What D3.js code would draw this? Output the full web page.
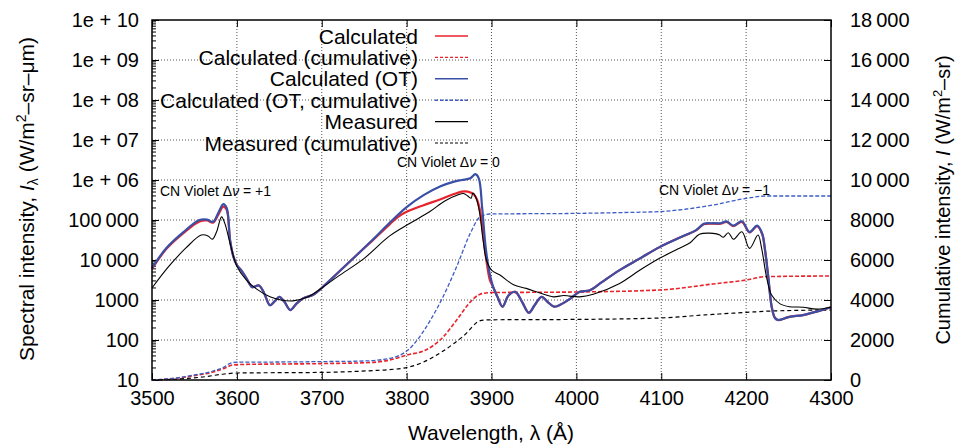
<!DOCTYPE html>
<html><head><meta charset="utf-8">
<script src="https://cdn.jsdelivr.net/npm/d3@7"></script>
<style>
body{margin:0;background:#fff}
svg{font-family:"Liberation Sans",Arial,Helvetica,sans-serif}
</style></head><body>
<svg id="c" width="955" height="444"></svg>
<script>
// ---------- data ----------
const xTicks = [3500,3600,3700,3800,3900,4000,4100,4200,4300];
const leftTicks = [10,100,1000,1e4,1e5,1e6,1e7,1e8,1e9,1e10];
const leftTickLabels = ["10","100","1000","10\u2009000","100\u2009000","1e + 06","1e + 07","1e + 08","1e + 09","1e + 10"];
const rightTicks = [0,2000,4000,6000,8000,10000,12000,14000,16000,18000];
const rightTickLabels = ["0","2000","4000","6000","8000","10\u2009000","12\u2009000","14\u2009000","16\u2009000","18\u2009000"];

const seriesNames = ["Calculated","Calculated (cumulative)","Calculated (OT)","Calculated (OT, cumulative)","Measured","Measured (cumulative)"];

// Calculated (OT) spectral intensity
const otWl  = [3500,3517,3537,3556,3565,3572,3578,3584,3588,3592,3596,3600,3605,3611,3618,3626,3632,3639,3645,3650,3656,3663,3670,3678,3690,3700,3720,3740,3760,3780,3800,3820,3840,3855,3865,3875,3881,3885,3889,3893,3897,3902,3907,3913,3920,3928,3936,3944,3951,3959,3966,3974,3983,3992,4004,4016,4030,4051,4075,4098,4120,4141,4150,4160,4170,4177,4185,4195,4204,4213,4219,4222,4226,4230,4234,4238,4251,4267,4284,4300];
const otVal = [6300,20000,50000,100000,102000,90000,150000,250000,200000,31600,12000,7500,5600,3600,2100,2300,1500,740,950,1200,900,560,800,1100,1350,2000,5000,12600,32000,85000,210000,420000,700000,900000,1000000,1100000,1400000,1100000,200000,22000,5600,2100,1200,680,1300,1600,900,480,750,1200,900,680,800,1050,1600,1750,2800,5600,11000,21000,35000,56000,80000,83000,83000,92000,72000,93000,50000,72000,45000,20000,4000,700,355,316,380,420,520,660];

// Calculated spectral intensity
const calcWl  = [3500,3517,3537,3556,3565,3572,3578,3584,3588,3592,3596,3600,3605,3611,3618,3626,3632,3639,3645,3650,3656,3663,3670,3678,3690,3700,3720,3740,3760,3780,3790,3800,3820,3840,3855,3865,3872,3879,3883,3886,3889,3892,3895,3898,3902,3907,3913,3920,3928,3936,3944,3951,3959,3966,3974,3983,3992,4004,4016,4030,4051,4075,4098,4120,4141,4150,4160,4170,4177,4185,4195,4204,4213,4219,4222,4226,4230,4234,4238,4251,4267,4284,4300];
const calcVal = [6000,19000,47000,92000,97000,86000,135000,215000,180000,30000,12000,7500,5600,3600,2100,2300,1500,740,950,1200,900,560,800,1100,1350,2000,5000,12600,31000,78000,120000,160000,235000,330000,440000,510000,510000,440000,320000,190000,70000,20000,7000,3200,2100,1200,680,1300,1600,900,480,750,1200,900,680,800,1050,1600,1750,2800,5600,11000,21000,35000,55000,78000,81000,81000,89000,70000,90000,49000,70000,44000,19000,3900,700,355,316,380,420,520,660];

// Measured spectral intensity
const measWl  = [3500,3520,3540,3558,3566,3571,3576,3582,3586,3592,3600,3611,3623,3639,3652,3666,3684,3700,3720,3750,3780,3804,3827,3845,3860,3867,3872,3876,3878,3882,3886,3890,3894,3900,3910,3926,3941,3957,3973,3985,3992,4004,4020,4051,4075,4098,4120,4134,4145,4157,4165,4169,4173,4179,4185,4195,4204,4214,4218,4224,4230,4240,4251,4267,4283,4300];
const measVal = [2000,7000,20000,42000,40000,33000,50000,120000,80000,26000,7000,3200,1900,1200,1000,950,1200,2000,4000,11000,40000,83000,160000,300000,420000,460000,400000,350000,470000,350000,150000,32000,10000,5600,4200,2400,1950,1500,1200,1300,1250,1200,1400,2600,5600,11000,19000,27000,44000,47000,45000,42000,37000,48000,33000,51000,19500,42000,21000,3800,1330,800,680,660,590,660];

// Cumulative intensities
const otCumWl  = [3500,3525,3550,3572,3585,3592,3600,3650,3700,3750,3780,3803,3827,3843,3859,3875,3886,3898,4000,4050,4098,4130,4161,4200,4224,4300];
const otCumVal = [0,80,250,450,650,830,890,900,920,950,1080,1550,2920,4170,5670,7330,8130,8300,8330,8370,8420,8550,8750,9080,9200,9200];
const calcCumWl  = [3500,3525,3550,3572,3585,3595,3610,3700,3760,3780,3803,3820,3843,3859,3875,3886,3898,4000,4098,4161,4200,4224,4300];
const calcCumVal = [0,70,220,400,580,750,780,820,880,1000,1280,1450,2150,3000,3900,4280,4370,4400,4500,4800,5000,5170,5200];
const measCumWl  = [3500,3530,3560,3585,3600,3700,3760,3780,3803,3820,3843,3867,3888,3900,4004,4098,4150,4200,4230,4300];
const measCumVal = [0,50,150,300,350,380,470,520,650,900,1450,2200,2980,3010,3030,3100,3250,3380,3450,3500];

// ---------- chart ----------
const svg = d3.select("#c");
const L=152, R=831, T=20, B=380;
const x  = d3.scaleLinear().domain([3500,4300]).range([L,R]);
const yL = d3.scaleLog().domain([10,1e10]).range([B,T]);
const yR = d3.scaleLinear().domain([0,18000]).range([B,T]);

// grid
const grid = svg.append("g").attr("stroke","#555").attr("stroke-width",1).attr("stroke-dasharray","1,2");
xTicks.slice(1,-1).forEach(t=>grid.append("line").attr("x1",x(t)).attr("x2",x(t)).attr("y1",T).attr("y2",B));
leftTicks.slice(1,-1).forEach(t=>grid.append("line").attr("x1",L).attr("x2",R).attr("y1",yL(t)).attr("y2",yL(t)));

const FS = "20px";
function styleAxis(g){
  g.select(".domain").remove();
  g.attr("font-family",'"Liberation Sans",Arial,sans-serif').attr("font-size",FS);
  g.selectAll("line").attr("stroke","#000");
}
svg.append("g").attr("transform",`translate(${L},0)`)
  .call(d3.axisLeft(yL).tickValues(leftTicks).tickFormat((d,i)=>leftTickLabels[i]).tickSize(-7).tickPadding(13))
  .call(styleAxis);
svg.append("g").attr("transform",`translate(${R},0)`)
  .call(d3.axisRight(yR).tickValues(rightTicks).tickFormat((d,i)=>rightTickLabels[i]).tickSize(-7).tickPadding(19))
  .call(styleAxis);
svg.append("g").attr("transform",`translate(0,${B})`)
  .call(d3.axisBottom(x).tickValues(xTicks).tickFormat(d3.format("d")).tickSize(-7).tickPadding(11))
  .call(styleAxis);
svg.append("g").attr("transform",`translate(0,${T})`)
  .call(d3.axisTop(x).tickValues(xTicks).tickFormat("").tickSize(-7))
  .call(styleAxis);

// minor log ticks
const minor = svg.append("g").attr("stroke","#000");
for(let e=1;e<10;e++){ for(let k=2;k<10;k++){ const v=k*Math.pow(10,e);
  minor.append("line").attr("x1",L).attr("x2",L+4).attr("y1",yL(v)).attr("y2",yL(v)); } }

// curves
const curveS = d3.curveCatmullRom.alpha(0.5);
function drawLine(wl, val, yScale, color, width, dash, curve){
  const data = wl.map((w,i)=>[w,val[i]]);
  svg.append("path").datum(data)
    .attr("fill","none").attr("stroke",color).attr("stroke-width",width)
    .attr("stroke-dasharray",dash||null).attr("stroke-linejoin","round")
    .attr("d", d3.line().x(d=>x(d[0])).y(d=>yScale(d[1])).curve(curve||curveS));
}
const RED="#e8232b", BLUE="#3a4fa6", BLUED="#3d5cc4", BLK="#000";
drawLine(measCumWl, measCumVal, yR, BLK, 1.2, "4,3", d3.curveMonotoneX);
drawLine(calcCumWl, calcCumVal, yR, RED, 1.6, "4,2", d3.curveMonotoneX);
drawLine(otCumWl, otCumVal, yR, BLUED, 1.3, "4,2", d3.curveMonotoneX);
drawLine(calcWl, calcVal, yL, RED, 2.2);
drawLine(otWl, otVal, yL, BLUE, 2.2);
drawLine(measWl, measVal, yL, BLK, 1.1);

// frame
svg.append("rect").attr("x",L).attr("y",T).attr("width",R-L).attr("height",B-T)
  .attr("fill","none").attr("stroke","#000").attr("stroke-width",1.5);

// legend
const legStyles = [[RED,1.6,null],[RED,1.4,"3,2"],[BLUE,1.5,null],[BLUED,1.4,"3,2"],[BLK,1.2,null],[BLK,1.2,"3,2"]];
seriesNames.forEach((n,i)=>{
  const yy = 36 + i*21.4;
  svg.append("text").attr("x",418).attr("y",yy+7.5).attr("text-anchor","end").attr("font-size","21px").text(n);
  svg.append("line").attr("x1",435).attr("x2",468).attr("y1",yy).attr("y2",yy)
    .attr("stroke",legStyles[i][0]).attr("stroke-width",legStyles[i][1]).attr("stroke-dasharray",legStyles[i][2]);
});

// annotations
function annot(xp, yp, tail){
  const t = svg.append("text").attr("x",xp).attr("y",yp).attr("font-size","14px");
  t.append("tspan").text("CN Violet \u0394");
  t.append("tspan").attr("font-style","italic").text("\u03bd");
  t.append("tspan").text(" = " + tail);
}
annot(160,196,"+1");
annot(397,167,"0");
annot(659,195,"\u22121");

// axis titles
svg.append("text").attr("x",491).attr("y",440).attr("text-anchor","middle").attr("font-size","21px")
  .text("Wavelength, \u03bb (\u00c5)");
const lt = svg.append("text").attr("transform","translate(34,199) rotate(-90)").attr("text-anchor","middle").attr("font-size","21px");
lt.append("tspan").text("Spectral intensity, ");
lt.append("tspan").attr("font-style","italic").text("I");
lt.append("tspan").attr("font-size","14px").attr("dy",4).text("\u03bb");
lt.append("tspan").attr("dy",-4).text(" (W/m");
lt.append("tspan").attr("font-size","14px").attr("dy",-8).text("2");
lt.append("tspan").attr("dy",8).text("\u2013sr\u2013\u03bcm)");
const rt = svg.append("text").attr("transform","translate(950,200) rotate(-90)").attr("text-anchor","middle").attr("font-size","20px");
rt.append("tspan").text("Cumulative intensity, ");
rt.append("tspan").attr("font-style","italic").text("I");
rt.append("tspan").text(" (W/m");
rt.append("tspan").attr("font-size","13px").attr("dy",-8).text("2");
rt.append("tspan").attr("dy",8).text("\u2013sr)");
</script>
</body></html>
